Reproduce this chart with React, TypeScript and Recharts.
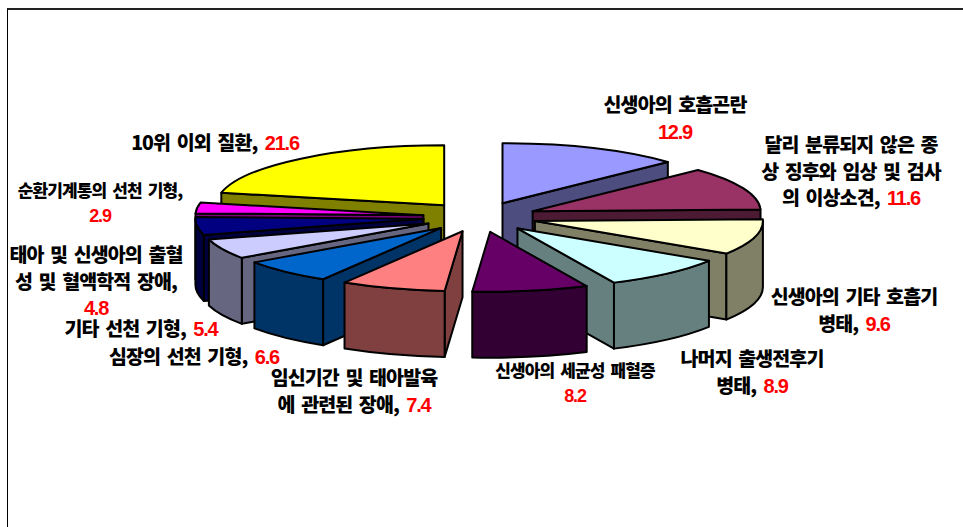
import React from 'react';
import { PieChart, Pie } from 'recharts';

const CATEGORY_LINES: string[][] = [
  ['신생아의 호흡곤란', ''],
  ['달리 분류되지 않은 종', '상 징후와 임상 및 검사', '의 이상소견,'],
  ['신생아의 기타 호흡기', '병태,'],
  ['나머지 출생전후기', '병태,'],
  ['신생아의 세균성 패혈증', ''],
  ['임신기간 및 태아발육', '에 관련된 장애,'],
  ['심장의 선천 기형,'],
  ['기타 선천 기형,'],
  ['태아 및 신생아의 출혈', '성 및 혈액학적 장애,', ''],
  ['순환기계통의 선천 기형,', ''],
  ['10위 이외 질환,'],
];
const VALUES = [12.9, 11.6, 9.6, 8.9, 8.2, 7.4, 6.6, 5.4, 4.8, 2.9, 21.6];
const TOP_COLORS = ['#9999FF', '#993366', '#FFFFCC', '#CCFFFF', '#660066', '#FF8080', '#0066CC', '#CCCCFF', '#000080', '#FF00FF', '#FFFF00'];
const SIDE_COLORS = ['#4D4D80', '#4D1A33', '#808066', '#668080', '#330033', '#804040', '#003366', '#666680', '#000040', '#800080', '#808000'];

// label anchor (center x, first baseline y, font size), same order as VALUES
const LABEL_LAYOUT = [
  [667, 102, 19.5],
  [843, 142, 19.5],
  [846, 294, 19.5],
  [744, 356, 19.5],
  [567, 367, 17],
  [346, 375, 19.5],
  [186, 354, 19.5],
  [133, 326, 19.5],
  [88, 252, 19.5],
  [92, 187, 17],
  [207, 140, 19.5],
];

const WIDTH = 955;
const HEIGHT = 517;
const CX = 472;
const CY = 207;
const RADIUS = 228;
const SQUASH = 0.263;
const DEPTH = 66;
const EXPLODE = 57;

const chartData = VALUES.map((value, i) => ({
  name: CATEGORY_LINES[i].join(' '),
  value,
  idx: i,
  fill: TOP_COLORS[i],
  side: SIDE_COLORS[i],
}));
const reversedData = [...chartData].reverse();

const rad = (deg: number) => (deg * Math.PI) / 180;

// one slice as a tilted, exploded wedge, angles are clockwise from 12 o'clock
const makeWedge = (side: 'left' | 'right') => (props: any) => {
  const { cx, cy, outerRadius, startAngle, endAngle } = props;
  const item = props.payload ?? props;
  let a = 90 - Math.max(startAngle, endAngle);
  let b = 90 - Math.min(startAngle, endAngle);
  if (a < 0) {
    a += 360;
    b += 360;
  }
  const mid = (a + b) / 2;
  if ((mid < 180 ? 'right' : 'left') !== side) return <g />;

  const ox = cx + EXPLODE * Math.sin(rad(mid));
  const oy = cy - EXPLODE * SQUASH * Math.cos(rad(mid));
  const rx = outerRadius;
  const ry = outerRadius * SQUASH;
  const px = (t: number) => ox + rx * Math.sin(rad(t));
  const py = (t: number) => oy - ry * Math.cos(rad(t));
  const line = { stroke: '#000', strokeWidth: 2, strokeLinejoin: 'round' as const };

  const wall = (t: number) => (
    <path
      d={`M${ox},${oy} L${px(t)},${py(t)} L${px(t)},${py(t) + DEPTH} L${ox},${oy + DEPTH} Z`}
      fill={item.side}
      {...line}
    />
  );
  const r1 = Math.max(a, 90);
  const r2 = Math.min(b, 270);

  return (
    <g>
      {a > 180 && wall(a)}
      {b < 180 && wall(b)}
      {r2 > r1 && (
        <path
          d={`M${px(r1)},${py(r1)} A${rx},${ry} 0 0 1 ${px(r2)},${py(r2)} L${px(r2)},${py(r2) + DEPTH} A${rx},${ry} 0 0 0 ${px(r1)},${py(r1) + DEPTH} Z`}
          fill={item.side}
          {...line}
        />
      )}
      <path
        d={`M${ox},${oy} L${px(a)},${py(a)} A${rx},${ry} 0 0 1 ${px(b)},${py(b)} Z`}
        fill={item.fill}
        {...line}
      />
    </g>
  );
};

const renderLabel = (props: any) => {
  const i = props.payload?.idx ?? props.idx;
  const [x, y, size] = LABEL_LAYOUT[i];
  const lines = CATEGORY_LINES[i];
  const gap = size < 18 ? 25 : 26.5;
  return (
    <text
      key={i}
      textAnchor="middle"
      fontFamily="'Noto Sans CJK KR', sans-serif"
      fontWeight={900}
      fontSize={size}
      letterSpacing={-0.9}
      wordSpacing={3}
    >
      {lines.map((t, n) => (
        <tspan key={n} x={x} y={y + n * gap} fill="#000">
          {t}
          {n === lines.length - 1 && (
            <tspan
              fill="#FF0000"
              fontFamily="'Liberation Sans', sans-serif"
              fontWeight={700}
              fontSize={size < 18 ? 18 : 20}
              letterSpacing={-1.2}
            >
              {(t ? ' ' : '') + VALUES[i]}
            </tspan>
          )}
        </tspan>
      ))}
    </text>
  );
};

const leftWedge = makeWedge('left');
const rightWedge = makeWedge('right');

export default function App() {
  return (
    <div
      style={{
        position: 'absolute',
        left: 7,
        top: 8,
        width: WIDTH,
        height: HEIGHT,
        borderLeft: '1px solid #000',
        borderTop: '2px solid #222',
        background: '#fff',
      }}
    >
      <PieChart width={WIDTH} height={HEIGHT} margin={{ top: 0, right: 0, bottom: 0, left: 0 }}>
        {/* back to front: left half first, walking anticlockwise from the top */}
        <Pie
          data={reversedData}
          dataKey="value"
          cx={CX}
          cy={CY}
          outerRadius={RADIUS}
          startAngle={90}
          endAngle={450}
          stroke="none"
          shape={leftWedge}
          inactiveShape={leftWedge}
          isAnimationActive={false}
        />
        <Pie
          data={chartData}
          dataKey="value"
          cx={CX}
          cy={CY}
          outerRadius={RADIUS}
          startAngle={90}
          endAngle={-270}
          stroke="none"
          shape={rightWedge}
          inactiveShape={rightWedge}
          label={renderLabel}
          labelLine={false}
          isAnimationActive={false}
        />
      </PieChart>
    </div>
  );
}
